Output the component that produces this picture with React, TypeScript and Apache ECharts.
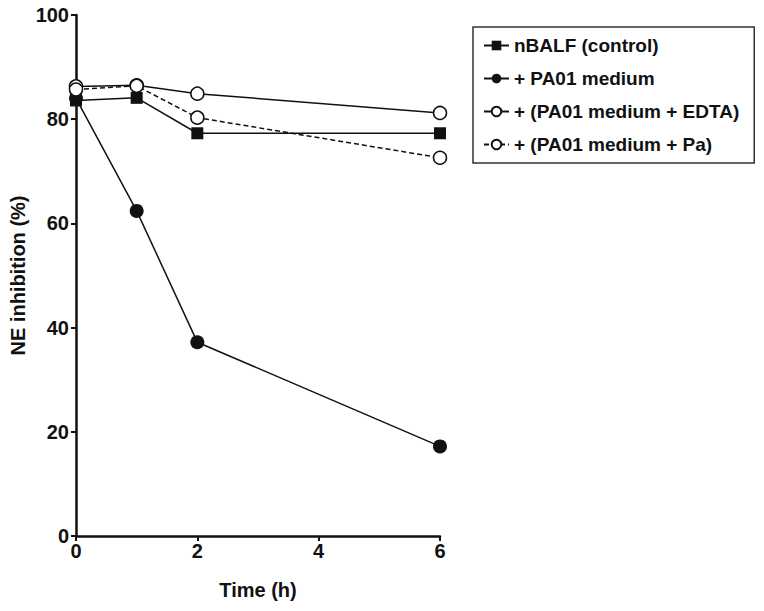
import React, { useEffect, useRef } from "react";
import * as echarts from "echarts";

const times = [0, 1, 2, 6];
const seriesNames = [
  "nBALF (control)",
  "+ PA01 medium",
  "+ (PA01 medium + EDTA)",
  "+ (PA01 medium + Pa)",
];
const controlValues = [83.6, 84.1, 77.3, 77.3];
const pa01Values = [84.0, 62.4, 37.2, 17.2];
const edtaValues = [86.3, 86.5, 84.9, 81.2];
const paValues = [85.7, 86.4, 80.3, 72.6];
const yTicks = [0, 20, 40, 60, 80, 100];
const xTicks = [0, 2, 4, 6];

const FONT = "'Liberation Sans', Arial, sans-serif";
const INK = "#111";

export default function App() {
  const ref = useRef<HTMLDivElement>(null);
  useEffect(() => {
    if (!ref.current) return;
    const chart = echarts.init(ref.current, undefined, { renderer: "svg" });
    const pair = (vals: number[]) => times.map((t, i) => [t, vals[i]]);
    const lineBase = (name: string, vals: number[], symbol: string, size: number, filled: boolean, dashed: boolean) => ({
      name,
      type: "line",
      data: pair(vals),
      symbol,
      symbolSize: size,
      showAllSymbol: true,
      lineStyle: { color: INK, width: 1.5, type: dashed ? [5, 3] : "solid" },
      itemStyle: {
        color: filled ? INK : "#fff",
        borderColor: INK,
        borderWidth: filled ? 0 : 1.5,
      },
      emphasis: { disabled: true },
      z: 3,
    });
    chart.setOption({
      animation: false,
      backgroundColor: "#fff",
      grid: { left: 76, right: 324, top: 15, bottom: 75, containLabel: false },
      xAxis: {
        type: "value",
        min: 0,
        max: 6,
        interval: 2,
        name: "Time (h)",
        nameLocation: "middle",
        nameGap: 44,
        nameTextStyle: { fontFamily: FONT, fontWeight: "bold", fontSize: 20, color: INK },
        axisLine: { show: true, lineStyle: { color: INK, width: 2.5 } },
        axisTick: { show: true, length: 5, lineStyle: { color: INK, width: 2 } },
        axisLabel: {
          fontFamily: FONT,
          fontWeight: "bold",
          fontSize: 20,
          color: INK,
          margin: 5,
          customValues: xTicks,
        },
        splitLine: { show: false },
      },
      yAxis: {
        type: "value",
        min: 0,
        max: 100,
        interval: 20,
        name: "NE inhibition (%)",
        nameLocation: "middle",
        nameGap: 48,
        nameTextStyle: { fontFamily: FONT, fontWeight: "bold", fontSize: 20, color: INK },
        axisLine: { show: true, lineStyle: { color: INK, width: 2.5 } },
        axisTick: { show: true, length: 5, lineStyle: { color: INK, width: 2 } },
        axisLabel: {
          fontFamily: FONT,
          fontWeight: "bold",
          fontSize: 20,
          color: INK,
          margin: 7,
          customValues: yTicks,
        },
        splitLine: { show: false },
      },
      legend: {
        left: 473,
        top: 27,
        orient: "vertical",
        data: seriesNames,
        itemWidth: 25,
        itemHeight: 12,
        itemGap: 14,
        padding: [9, 15, 9, 10],
        borderColor: "#333",
        borderWidth: 1.5,
        textStyle: { fontFamily: FONT, fontWeight: "bold", fontSize: 19, color: INK },
        selectedMode: false,
      },
      series: [
        lineBase(seriesNames[0], controlValues, "rect", 12, true, false),
        lineBase(seriesNames[1], pa01Values, "circle", 14, true, false),
        lineBase(seriesNames[2], edtaValues, "circle", 13, false, false),
        lineBase(seriesNames[3], paValues, "circle", 13, false, true),
      ],
    });
    return () => chart.dispose();
  }, []);
  return <div ref={ref} style={{ width: 764, height: 611, position: "absolute", left: 0, top: 0 }} />;
}
